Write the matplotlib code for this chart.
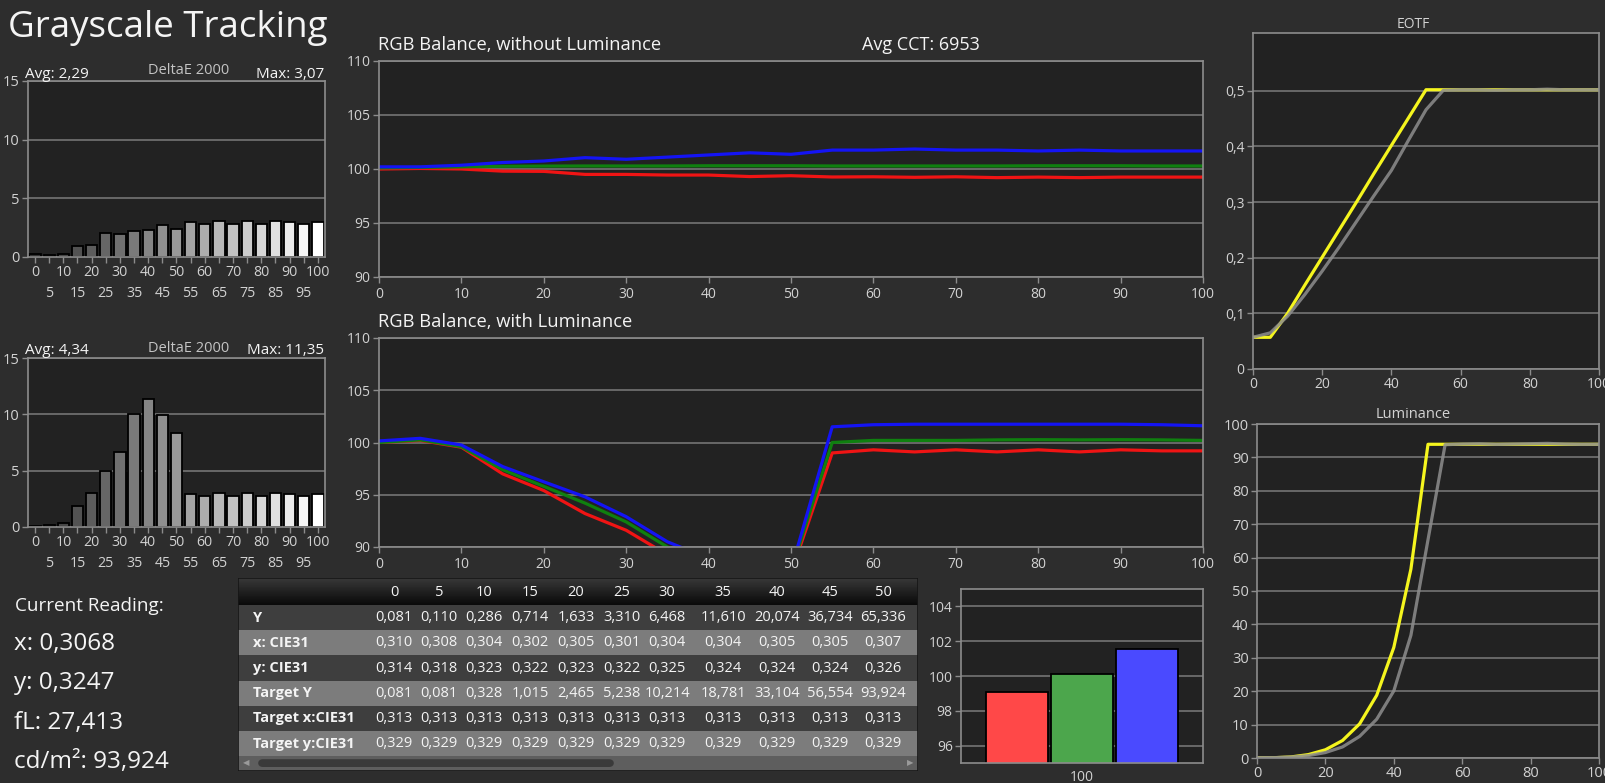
import numpy as np
import matplotlib
matplotlib.use("Agg")
import matplotlib.pyplot as plt
from matplotlib.patches import Rectangle, FancyBboxPatch

plt.rcParams['font.family'] = ['Open Sans', 'DejaVu Sans']

W, H = 1606, 783

# ---- data ----
steps = [0, 5, 10, 15, 20, 25, 30, 35, 40, 45, 50,
         55, 60, 65, 70, 75, 80, 85, 90, 95, 100]

de_top = [0.25, 0.17, 0.25, 0.90, 1.00, 2.05, 1.95, 2.20, 2.27, 2.70, 2.35,
          2.97, 2.80, 3.03, 2.80, 3.03, 2.80, 3.07, 2.95, 2.80, 2.95]
de_bottom = [0.12, 0.20, 0.35, 1.83, 3.00, 5.00, 6.70, 10.00, 11.35, 9.90, 8.30,
             2.92, 2.77, 2.98, 2.77, 2.98, 2.77, 2.98, 2.90, 2.77, 2.90]

# RGB balance without luminance
r_bal = [100.0, 100.05, 100.0, 99.8, 99.78, 99.5, 99.5, 99.44, 99.44, 99.3, 99.38,
         99.26, 99.28, 99.23, 99.28, 99.2, 99.25, 99.2, 99.25, 99.25, 99.25]
g_bal = [100.1, 100.15, 100.2, 100.25, 100.27, 100.28, 100.28, 100.28, 100.3, 100.3, 100.3,
         100.28, 100.28, 100.28, 100.28, 100.28, 100.3, 100.3, 100.3, 100.28, 100.28]
b_bal = [100.2, 100.2, 100.35, 100.6, 100.74, 101.05, 100.9, 101.1, 101.3, 101.5, 101.36,
         101.75, 101.75, 101.85, 101.75, 101.75, 101.67, 101.75, 101.67, 101.67, 101.67]

# RGB balance with luminance (35..50 fall below the axis)
r_lum = [100.0, 100.2, 99.55, 97.0, 95.4, 93.2, 91.6, 89.25, 88.0, 87.0, 87.5,
         99.0, 99.3, 99.1, 99.3, 99.1, 99.3, 99.1, 99.3, 99.2, 99.2]
g_lum = [100.0, 100.25, 99.6, 97.4, 95.8, 94.2, 92.4, 90.0, 88.5, 87.5, 87.7,
         100.0, 100.2, 100.2, 100.2, 100.25, 100.27, 100.25, 100.27, 100.25, 100.2]
b_lum = [100.15, 100.4, 99.76, 97.7, 96.24, 94.8, 92.9, 90.5, 88.9, 88.0, 87.8,
         101.5, 101.7, 101.75, 101.75, 101.75, 101.75, 101.75, 101.75, 101.7, 101.6]

eotf_target = [0.057, 0.057, 0.100, 0.151, 0.201, 0.251, 0.301, 0.352, 0.402, 0.452, 0.502,
               0.502, 0.502, 0.502, 0.502, 0.502, 0.502, 0.502, 0.502, 0.502, 0.502]
eotf_meas = [0.057, 0.065, 0.095, 0.134, 0.176, 0.220, 0.266, 0.312, 0.357, 0.412, 0.466,
             0.501, 0.502, 0.502, 0.501, 0.502, 0.502, 0.503, 0.502, 0.502, 0.502]

lum_target = [0.081, 0.081, 0.328, 1.015, 2.465, 5.238, 10.214, 18.781, 33.104, 56.554, 93.924,
              93.924, 93.924, 93.924, 93.924, 93.924, 93.924, 93.924, 93.924, 93.924, 93.924]
lum_meas = [0.081, 0.110, 0.286, 0.714, 1.633, 3.310, 6.468, 11.610, 20.074, 36.734, 65.336,
            93.8, 94.0, 94.1, 93.9, 94.0, 94.1, 94.2, 94.0, 93.9, 93.924]

bar_names = ['R', 'G', 'B']
bar_values = [99.09, 100.13, 101.56]

table_cols = ['0', '5', '10', '15', '20', '25', '30', '35', '40', '45', '50']
row_labels = ['Y', 'x: CIE31', 'y: CIE31', 'Target Y', 'Target x:CIE31', 'Target y:CIE31']
t_Y = [0.081, 0.110, 0.286, 0.714, 1.633, 3.310, 6.468, 11.610, 20.074, 36.734, 65.336]
t_x = [0.310, 0.308, 0.304, 0.302, 0.305, 0.301, 0.304, 0.304, 0.305, 0.305, 0.307]
t_y = [0.314, 0.318, 0.323, 0.322, 0.323, 0.322, 0.325, 0.324, 0.324, 0.324, 0.326]
t_tY = [0.081, 0.081, 0.328, 1.015, 2.465, 5.238, 10.214, 18.781, 33.104, 56.554, 93.924]
t_tx = [0.313] * 11
t_ty = [0.329] * 11

reading = ['x: 0,3068', 'y: 0,3247', 'fL: 27,413', 'cd/m²: 93,924']

# ---- colours ----
FIG_BG = '#2d2d2d'
PLOT_BG = '#222222'
FRAME = '#8c8c8c'
GRID = '#7c7c7c'
LABEL = '#d2d2d2'
WHITE = '#f4f4f4'


def comma(v, fmt='{:.3f}'):
    return fmt.format(v).replace('.', ',')


fig = plt.figure(figsize=(W / 100, H / 100), dpi=100, facecolor=FIG_BG)


def px_axes(left, top, right, bottom):
    return fig.add_axes([left / W, 1 - bottom / H, (right - left) / W, (bottom - top) / H])


def ftext(x, y, s, **kw):
    kw.setdefault('color', WHITE)
    return fig.text(x / W, 1 - y / H, s, **kw)


def style(ax, size=10):
    ax.set_facecolor(PLOT_BG)
    for sp in ax.spines.values():
        sp.set_color(FRAME)
        sp.set_linewidth(1.2)
    ax.tick_params(colors=FRAME, labelcolor=LABEL, length=4, width=1, labelsize=size, pad=2)
    ax.yaxis.grid(True, color=GRID, lw=1.1)
    ax.set_axisbelow(True)


# title
ftext(8, 37, 'Grayscale Tracking', fontsize=26.5, va='baseline', ha='left')


# ---- DeltaE bar charts ----
def delta_chart(box, values, avg, mx):
    l, t, r, b = box
    ax = px_axes(l, t, r, b)
    style(ax, 10.5)
    n = len(values)
    shades = [str(0.2 + 0.8 * i / (n - 1)) for i in range(n)]
    ax.bar(range(n), values, width=0.8, color=shades, edgecolor='black', linewidth=1.3)
    ax.set_xlim(-0.5, n - 0.5)
    ax.set_ylim(0, 15)
    ax.set_yticks([0, 5, 10, 15])
    # labels alternate between two rows: 0,10,... on top, 5,15,... below
    ax.set_xticks(range(0, n, 2))
    ax.set_xticklabels([str(s) for s in steps[0::2]])
    ax.set_xticks(range(1, n, 2), minor=True)
    ax.set_xticklabels([str(s) for s in steps[1::2]], minor=True)
    ax.tick_params(axis='x', which='both', labelsize=10.2, colors=FRAME,
                   labelcolor=LABEL, length=4, width=1)
    ax.tick_params(axis='x', which='minor', pad=17)
    ftext(l - 3, t - 7, 'Avg: ' + avg, fontsize=11, ha='left', va='center')
    ftext((l + r) / 2 + 12, t - 10, 'DeltaE 2000', fontsize=10.5, ha='center', va='center',
          color='#c4c4c4')
    ftext(r - 1, t - 7, 'Max: ' + mx, fontsize=11, ha='right', va='center')


delta_chart((28, 81, 325, 257), de_top, '2,29', '3,07')
delta_chart((28, 358, 325, 527), de_bottom, '4,34', '11,35')


# ---- RGB balance line charts ----
def rgb_chart(box, r_vals, g_vals, b_vals, title):
    l, t, r, b = box
    ax = px_axes(l, t, r, b)
    style(ax, 10)
    ax.plot(steps, r_vals, color='#f01414', lw=2.3, solid_joinstyle='round')
    ax.plot(steps, g_vals, color='#0f800f', lw=2.3, solid_joinstyle='round')
    ax.plot(steps, b_vals, color='#1414f5', lw=2.3, solid_joinstyle='round')
    ax.set_xlim(0, 100)
    ax.set_ylim(90, 110)
    ax.set_xticks(range(0, 101, 10))
    ax.set_yticks(range(90, 111, 5))
    ax.tick_params(axis='x', pad=3)
    ftext(l - 1, t - 16, title, fontsize=13.2, ha='left', va='center')
    return ax


rgb_chart((379, 61, 1203, 277), r_bal, g_bal, b_bal, 'RGB Balance, without Luminance')
ftext(921, 45, 'Avg CCT: 6953', fontsize=13, ha='center', va='center')
rgb_chart((379, 338, 1203, 547), r_lum, g_lum, b_lum, 'RGB Balance, with Luminance')

# ---- EOTF ----
ax_e = px_axes(1253, 33, 1599, 369)
style(ax_e, 10)
ax_e.plot(steps, eotf_target, color='#f5f51e', lw=2.3)
ax_e.plot(steps, eotf_meas, color='#8e8e8e', lw=2.3, alpha=0.85)
ax_e.set_xlim(0, 100)
ax_e.set_ylim(0, 0.604)
ax_e.set_xticks(range(0, 101, 20))
ax_e.set_yticks([0, 0.1, 0.2, 0.3, 0.4, 0.5])
ax_e.set_yticklabels(['0', '0,1', '0,2', '0,3', '0,4', '0,5'])
ftext(1413, 24, 'EOTF', fontsize=10, ha='center', va='center', color=LABEL)

# ---- Luminance ----
ax_l = px_axes(1257, 424, 1599, 758)
style(ax_l, 10.5)
ax_l.plot(steps, lum_target, color='#f5f51e', lw=2.3)
ax_l.plot(steps, lum_meas, color='#8e8e8e', lw=2.3, alpha=0.85)
ax_l.set_xlim(0, 100)
ax_l.set_ylim(0, 100)
ax_l.set_xticks(range(0, 101, 20))
ax_l.set_yticks(range(0, 101, 10))
ftext(1413, 414, 'Luminance', fontsize=10.5, ha='center', va='center', color=LABEL)

# ---- RGB bars at 100 ----
ax_b = px_axes(961, 589, 1203, 763)
style(ax_b, 10)
ax_b.bar([-1, 0, 1], bar_values, width=0.955, bottom=0,
         color=['#ff4848', '#4ca64c', '#4a4aff'], edgecolor='black', linewidth=1.3)
ax_b.set_xlim(-1.86, 1.86)
ax_b.set_ylim(95, 105)
ax_b.set_yticks([96, 98, 100, 102, 104])
ax_b.set_xticks([0])
ax_b.set_xticklabels(['100'])
ax_b.tick_params(axis='x', length=0, pad=5)

# ---- table ----
ax_t = px_axes(238, 578, 918, 771)
ax_t.axis('off')
COL_X = [394, 439, 484, 530, 576, 622, 667, 723, 777, 830, 883]
grad = np.linspace(0.22, 0.04, 30).reshape(-1, 1)
ax_t.imshow(grad, cmap='gray', vmin=0, vmax=1, aspect='auto',
            extent=(238, 918, 605, 578), interpolation='bilinear')
ax_t.set_xlim(238, 918)
ax_t.set_ylim(771, 578)
for c, x in zip(table_cols, COL_X):
    ax_t.text(x, 592, c, color=WHITE, fontsize=10.5, ha='center', va='center')
rows = [t_Y, t_x, t_y, t_tY, t_tx, t_ty]
row_h = 25.2
for i, (lab, vals) in enumerate(zip(row_labels, rows)):
    top = 605 + i * row_h
    ax_t.add_patch(Rectangle((238, top), 680, row_h,
                             color='#3e3e3e' if i % 2 == 0 else '#7c7c7c', lw=0))
    yc = top + row_h / 2
    ax_t.text(253, yc, lab, color=WHITE, fontsize=10.5, fontweight='bold',
              ha='left', va='center')
    for x, v in zip(COL_X, vals):
        ax_t.text(x, yc, comma(v), color=WHITE, fontsize=10.5, ha='center', va='center')
# scrollbar
sb_top = 605 + 6 * row_h
ax_t.add_patch(Rectangle((238, sb_top), 680, 771 - sb_top, color='#5e5e5e', lw=0))
ax_t.add_patch(FancyBboxPatch((258, sb_top + 3), 356, 771 - sb_top - 7,
                              boxstyle='round,pad=0,rounding_size=5',
                              color='#3a3a3a', lw=0, mutation_aspect=1))
ax_t.text(246, sb_top + 7, '◀', color='#9a9a9a', fontsize=6, ha='center', va='center')
ax_t.text(910, sb_top + 7, '▶', color='#9a9a9a', fontsize=6, ha='center', va='center')
ax_t.add_patch(Rectangle((238, 578), 680, 193, fill=False, ec='#161616', lw=1.2))

# ---- current reading ----
ftext(15, 611, 'Current Reading:', fontsize=13.6, ha='left', va='baseline')
for i, s in enumerate(reading):
    ftext(14, 650 + i * 39.3, s, fontsize=17.5, ha='left', va='baseline')

fig.savefig('out.png', dpi=100, facecolor=FIG_BG)
